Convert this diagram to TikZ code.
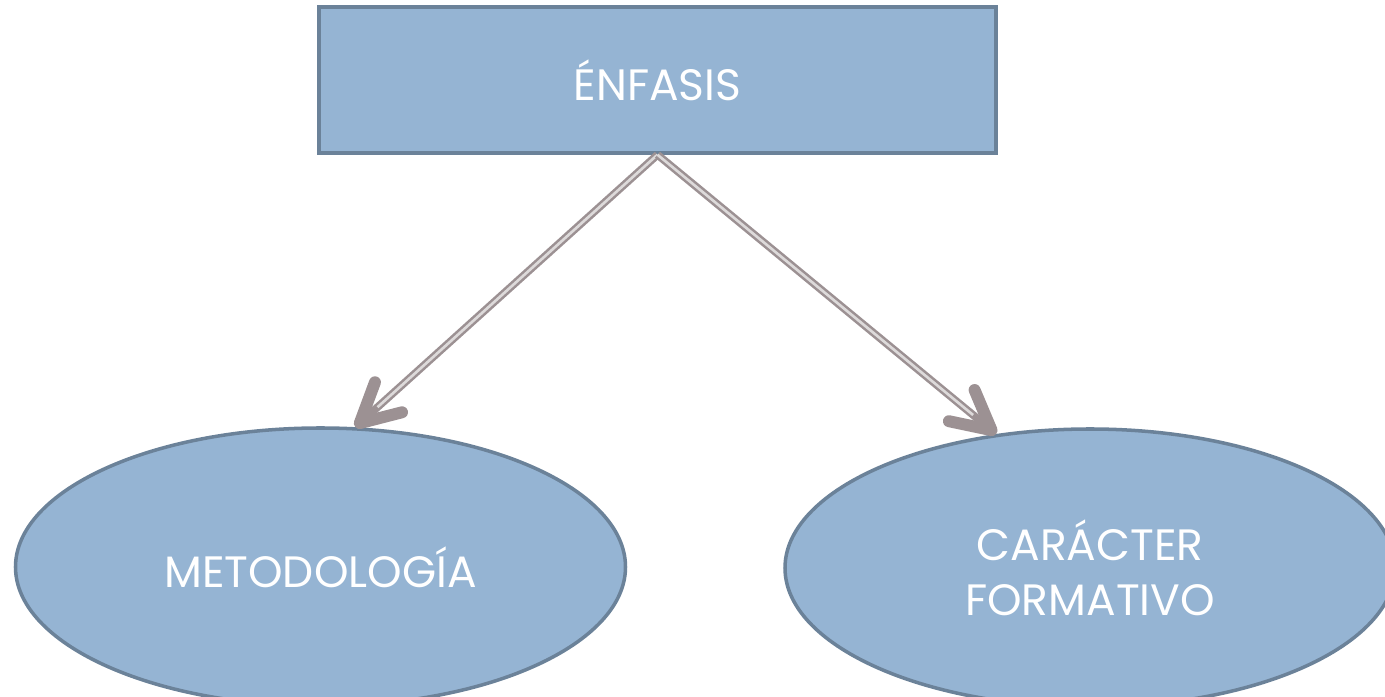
\documentclass[tikz,border=0pt]{standalone}
\usepackage{fontspec}
\setmainfont{Poppins}
\usetikzlibrary{shapes.geometric, arrows.meta, positioning}
\definecolor{boxblue}{HTML}{95B4D3}
\definecolor{edgeblue}{HTML}{6B8299}
\definecolor{arrowgray}{HTML}{9C9193}
\definecolor{stripegray}{HTML}{DDDADA}

\tikzset{
  topbox/.style={rectangle, minimum width=13.54cm, minimum height=2.92cm, draw=edgeblue, line width=2pt, fill=boxblue, text=white, font=\fontsize{25}{30}\selectfont},
  ovalbox/.style={ellipse, minimum width=12.2cm, minimum height=5.56cm, draw=edgeblue, line width=2pt, fill=boxblue, text=white, align=center, font=\fontsize{25}{31}\selectfont},
  arrowouter/.style={draw=arrowgray, line width=4.4pt, -{Straight Barb[round, length=22pt, width=23pt, line width=6.8pt]}},
  arrowinner/.style={draw=stripegray, line width=1.5pt, shorten >=17pt}
}

\begin{document}
\begin{tikzpicture}
\useasboundingbox (0,0) rectangle (27.7,13.94);
\node[topbox] (enfasis) at (13.15,12.34) {ÉNFASIS};
\node[ovalbox] (metodo) at (6.41,2.6) {METODOLOGÍA};
\node[ovalbox] (caracter) at (21.8,2.58) {CARÁCTER\\FORMATIVO};

% connectors
\draw[arrowouter] (enfasis.south) -- (metodo.76);
\draw[arrowinner] (enfasis.south) -- (metodo.76);
\draw[arrowouter] (enfasis.south) -- (caracter.125);
\draw[arrowinner] (enfasis.south) -- (caracter.125);
\end{tikzpicture}
\end{document}
